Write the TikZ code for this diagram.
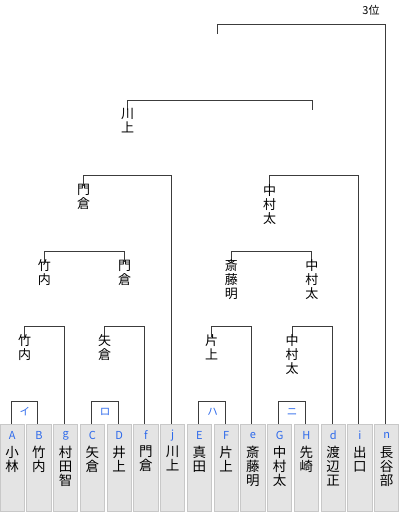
\documentclass[tikz,border=0pt]{standalone}
\usepackage{fontspec}
\newfontfamily\jp{Noto Sans CJK JP}
\definecolor{lblue}{RGB}{45,105,235}
\definecolor{boxfill}{RGB}{228,228,228}
\definecolor{boxedge}{RGB}{200,200,200}
\definecolor{linec}{RGB}{60,60,60}
\tikzset{
  pbox/.style={draw=boxedge,fill=boxfill,line width=0.8pt,minimum width=24.3pt,minimum height=87pt,inner sep=0pt},
  letter/.style={text=lblue,font=\jp\fontsize{11}{11}\selectfont,inner sep=0pt},
  pname/.style={anchor=north,align=center,inner sep=0pt,font=\jp\fontsize{13.5}{14}\selectfont},
  tname/.style={anchor=north,align=center,inner sep=0pt,font=\jp\fontsize{13}{14}\selectfont},
  glabel/.style={text=lblue,font=\jp\fontsize{10.5}{10.5}\selectfont,inner sep=0pt},
  bline/.style={draw=linec,line width=1pt},
}
\newcommand\mkbox[4]{%
  \node[pbox] (#2) at ({12.2+26.75*#1},467.5) {};
  \node[letter] (#2-l) at ({12.2+26.75*#1},435.5) {#3};
  \node[pname] (#2-n) at ({12.2+26.75*#1},446) {#4};
  \coordinate (#2-t) at ({11.2+26.75*#1},424);
}
\begin{document}
\begin{tikzpicture}[x=1pt,y=-1pt]
\useasboundingbox (0,0) rectangle (400,514);
% player boxes
\mkbox{0}{bA}{A}{小\\林}
\mkbox{1}{bB}{B}{竹\\内}
\mkbox{2}{bg}{g}{村\\田\\智}
\mkbox{3}{bC}{C}{矢\\倉}
\mkbox{4}{bD}{D}{井\\上}
\mkbox{5}{bf}{f}{門\\倉}
\mkbox{6}{bj}{j}{川\\上}
\mkbox{7}{bE}{E}{真\\田}
\mkbox{8}{bF}{F}{片\\上}
\mkbox{9}{be}{e}{斎\\藤\\明}
\mkbox{10}{bG}{G}{中\\村\\太}
\mkbox{11}{bH}{H}{先\\崎}
\mkbox{12}{bd}{d}{渡\\辺\\正}
\mkbox{13}{bi}{i}{出\\口}
\mkbox{14}{bn}{n}{長\\谷\\部}
% first-round small brackets
\draw[bline] (bA-t) -- ++(0,-23) -| (bB-t);
\draw[bline] (bC-t) -- ++(0,-23) -| (bD-t);
\draw[bline] (bE-t) -- ++(0,-23) -| (bF-t);
\draw[bline] (bG-t) -- ++(0,-23) -| (bH-t);
\node[glabel] (gI) at (25,412) {イ};
\node[glabel] (gRo) at (105,412) {ロ};
\node[glabel] (gHa) at (212.5,412) {ハ};
\node[glabel] (gNi) at (292,412) {ニ};
% level 1
\coordinate (l1a) at (24.5,336.5);
\coordinate (l1b) at (104.7,336.5);
\coordinate (r1a) at (211.5,336.5);
\coordinate (r1b) at (292,336.5);
\draw[bline] (l1a) -- ++(0,-10.5) -| (bg-t);
\draw[bline] (l1b) -- ++(0,-10.5) -| (bf-t);
\draw[bline] (r1a) -- ++(0,-10.5) -| (be-t);
\draw[bline] (r1b) -- ++(0,-10.5) -| (bd-t);
\node[tname] (w1a) at ([yshift=2pt]l1a) {竹\\内};
\node[tname] (w1b) at ([yshift=2pt]l1b) {矢\\倉};
\node[tname] (w1c) at ([yshift=2pt]r1a) {片\\上};
\node[tname] (w1d) at ([yshift=2pt]r1b) {中\\村\\太};
% level 2
\coordinate (l2a) at (44.3,261.5);
\coordinate (l2b) at (124.5,261.5);
\coordinate (r2a) at (231.3,261.5);
\coordinate (r2b) at (311.8,261.5);
\draw[bline] (l2a) -- ++(0,-9.8) -| (l2b);
\draw[bline] (r2a) -- ++(0,-9.8) -| (r2b);
\node[tname] (w2a) at ([yshift=2pt]l2a) {竹\\内};
\node[tname] (w2b) at ([yshift=2pt]l2b) {門\\倉};
\node[tname] (w2c) at ([yshift=2pt]r2a) {斎\\藤\\明};
\node[tname] (w2d) at ([yshift=2pt]r2b) {中\\村\\太};
% level 3
\coordinate (l3) at (83.5,186);
\coordinate (r3) at (269.5,186);
\draw[bline] (l3) -- ++(0,-10.3) -| (bj-t);
\draw[bline] (r3) -- ++(0,-10.3) -| (bi-t);
\node[tname] (w3a) at ([yshift=2pt]l3) {門\\倉};
\node[tname] (w3b) at ([yshift=2pt]r3) {中\\村\\太};
% semi
\coordinate (s4a) at (127.7,110);
\coordinate (s4b) at (312.7,110);
\draw[bline] (s4a) -- ++(0,-10) -| (s4b);
\node[tname] (w4) at ([yshift=2pt]s4a) {川\\上};
% third place
\coordinate (p3) at (217,34);
\draw[bline] (p3) -- ++(0,-10) -| (bn-t);
\node[inner sep=0pt,font=\jp\fontsize{11}{11}\selectfont] (third) at (371,10.5) {3位};
\end{tikzpicture}
\end{document}
